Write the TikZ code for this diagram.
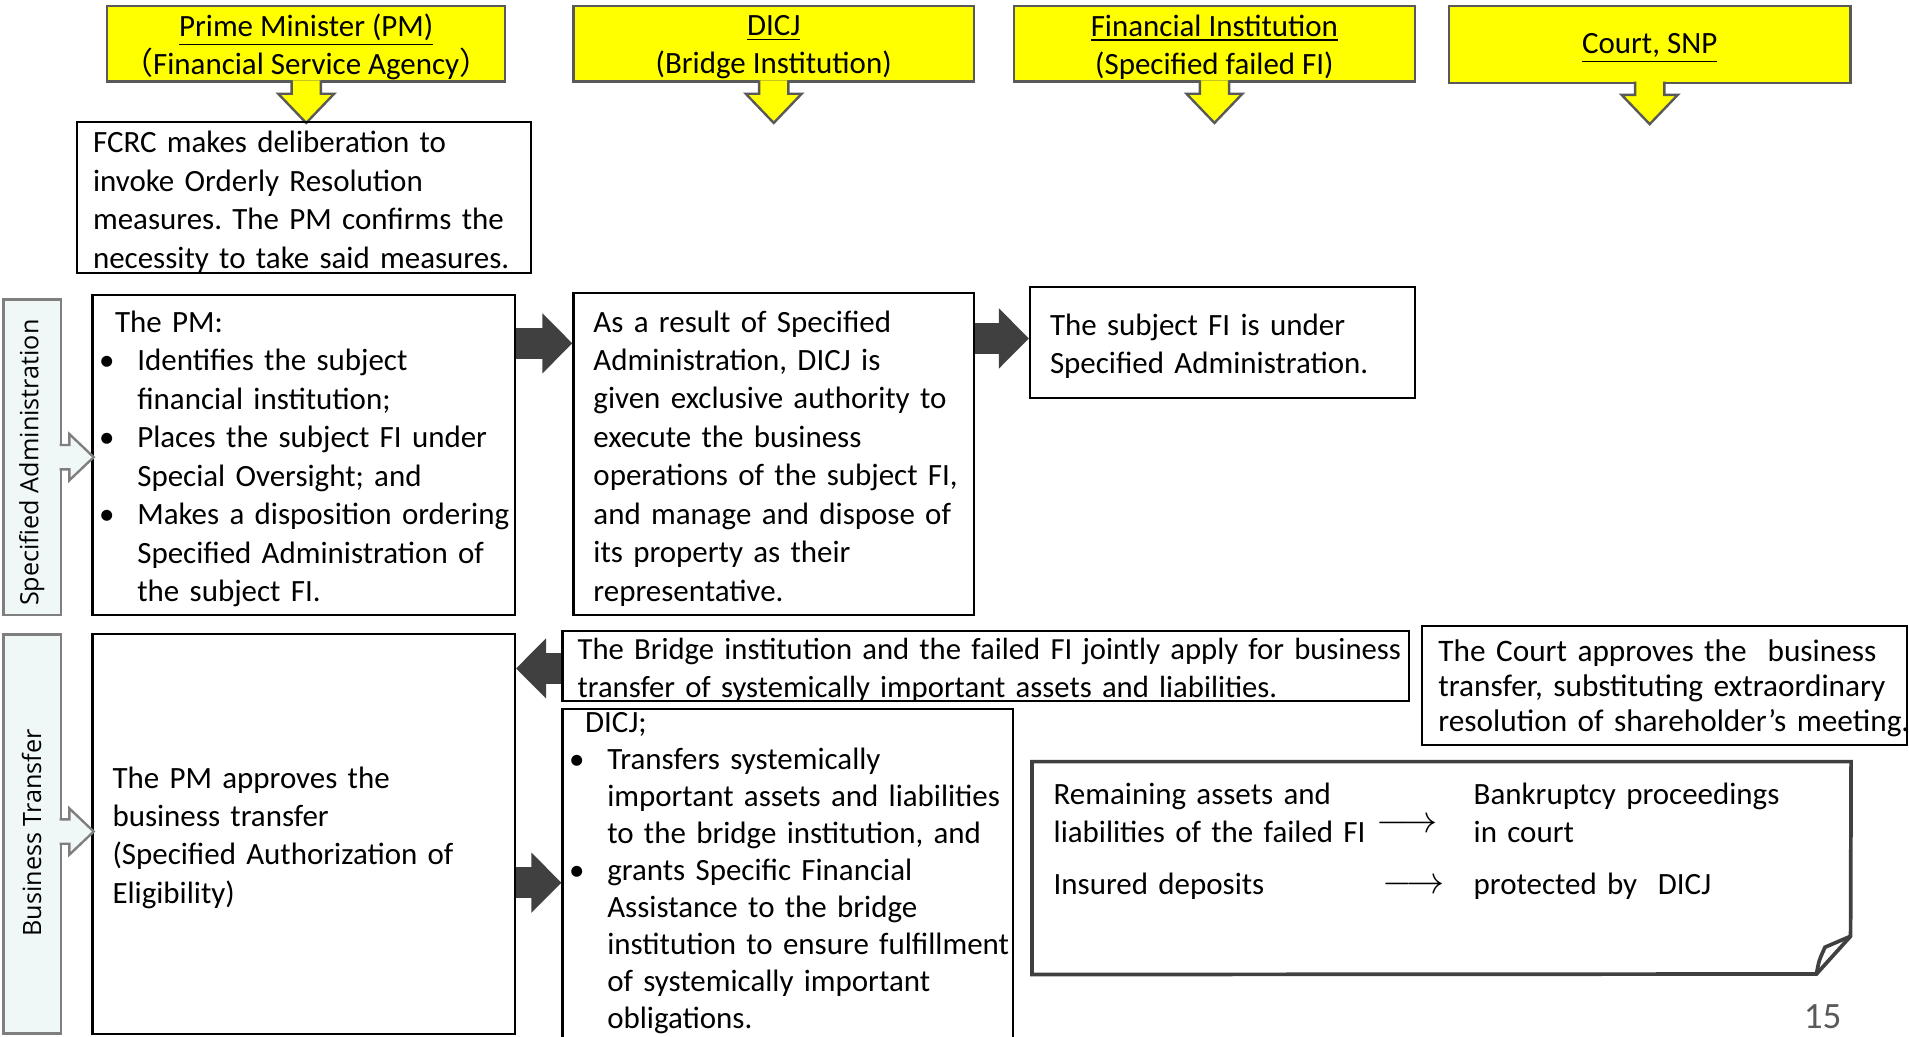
\documentclass[tikz,border=0pt]{standalone}
\usepackage{fontspec}
\setmainfont{Carlito}
\newfontfamily\sidefont{Open Sans}
\newfontfamily\cjk{Noto Sans CJK JP}
\usetikzlibrary{arrows.meta,fit}
\frenchspacing

\definecolor{headyellow}{HTML}{FFFF00}
\definecolor{headline}{HTML}{595959}
\definecolor{sidefill}{HTML}{F0F8F7}
\definecolor{sideline}{HTML}{7F7F7F}
\definecolor{arrowgray}{HTML}{404040}
\definecolor{pagegray}{HTML}{595959}

\newcommand{\bitem}{\makebox[14.4pt][l]{\textbullet}}
\newcommand{\bcont}{\hspace*{14.4pt}}

\begin{document}
\begin{tikzpicture}[x=0.459pt, y=-0.459pt,
    box/.style={draw=black, line width=0.8pt, inner sep=0pt},
    headbox/.style={draw=headline, fill=headyellow, line width=0.9pt, inner sep=0pt},
    sidebox/.style={draw=sideline, fill=sidefill, line width=0.9pt, inner sep=0pt},
    txt/.style={anchor=west, align=left, inner sep=0pt, text width=200pt,
      font=\fontsize{11.67}{14.5}\selectfont},
    headtxt/.style={align=center, inner sep=0pt, font=\fontsize{11.67}{14.4}\selectfont},
    sidetxt/.style={rotate=90, inner sep=0pt, font=\sidefont\fontsize{9.5}{11}\selectfont},
    blockarr/.style={arrowgray, line width=11.7pt, -{Triangle[length=11.3pt, width=22pt]}},
    yarr/.style={fill=headyellow, draw=headline, line width=0.9pt},
    hollowarr/.style={fill=sidefill, draw=sideline, line width=0.9pt},
    notebox/.style={draw=arrowgray, line width=1.4pt, line join=miter}
  ]
  \useasboundingbox (0,0) rectangle (1568,851);

  % Header boxes
  \node[headbox, fit={(88,5) (415,67)}] (hpm) {};
  \node[headbox, fit={(471,5) (800,67)}] (hdicj) {};
  \node[headbox, fit={(833,5) (1162,67)}] (hfi) {};
  \node[headbox, fit={(1190,5) (1520,68)}] (hcourt) {};
  \node[headtxt] (hpmtxt) at (251.5,38.5) {\underline{Prime Minister (PM)}\\{\cjk （}Financial Service Agency{\cjk ）}};
  \node[headtxt] (hdicjtxt) at (635.5,38.5) {\underline{DICJ}\\(Bridge Institution)};
  \node[headtxt] (hfitxt) at (997.5,38.5) {\underline{Financial Institution}\\(Specified failed FI)};
  \node[headtxt] (hcourttxt) at (1355,39.5) {\underline{Court, SNP}};

  % Yellow arrows below the headers
  \foreach \h in {hpm,hdicj,hfi,hcourt}
    \filldraw[yarr] (\h.south) ++(-12,-2) -- ++(0,11) -- ++(-11,0) -- ++(23,24)
      -- ++(23,-24) -- ++(-11,0) -- ++(0,-11);

  % FCRC deliberation
  \node[box, fit={(63,100) (436,224)}] (fcrc) {};
  \node[txt] (fcrctxt) at (76,166) {FCRC makes deliberation to\\invoke Orderly Resolution\\measures. The PM confirms the\\necessity to take said measures.};

  % Specified Administration row
  \node[sidebox, fit={(3,246) (50,505)}] (sideadm) {};
  \node[sidetxt] (sideadmtxt) at (26,380) {Specified Administration};
  \node[box, fit={(76,242) (423,505)}] (pmsa) {};
  \node[txt] (pmsatxt) at (81,377) {\hspace*{6pt}The PM:\\
    \bitem Identifies the subject\\\bcont financial institution;\\
    \bitem Places the subject FI under\\\bcont Special Oversight; and\\
    \bitem Makes a disposition ordering\\\bcont Specified Administration of\\\bcont the subject FI.};
  \node[box, fit={(471,241) (800,505)}] (dicjsa) {};
  \node[txt] (dicjsatxt) at (487,376.5) {As a result of Specified\\Administration, DICJ is\\given exclusive authority to\\execute the business\\operations of the subject FI,\\and manage and dispose of\\its property as their\\representative.};
  \node[box, fit={(846,236) (1162,327)}] (fisa) {};
  \node[txt] (fisatxt) at (862,284.5) {The subject FI is under\\Specified Administration.};

  \filldraw[hollowarr] (sideadm.east) ++(-2,-10) -- ++(8,0) -- ++(0,-9) -- ++(20,19)
    -- ++(-20,19) -- ++(0,-9) -- ++(-8,0);
  \draw[blockarr] (pmsa.east |- 0,282) -- (dicjsa.west |- 0,282);
  \draw[blockarr] (dicjsa.east |- 0,278) -- (fisa.west |- 0,278);

  % Business Transfer row
  \node[sidebox, fit={(3,521) (50,849)}] (sidebt) {};
  \node[sidetxt] (sidebttxt) at (26,684) {Business Transfer};
  \node[box, fit={(76,521) (423,849)}] (pmbt) {};
  \node[txt] (pmbttxt) at (92,688) {The PM approves the\\business transfer\\(Specified Authorization of\\Eligibility)};
  \node[box, fit={(462,518) (1157,576)}] (apply) {};
  \node[txt, text width=330pt, font=\fontsize{11.57}{14.2}\selectfont] (applytxt) at (474,550.5) {The Bridge institution and the failed FI jointly apply for business\\transfer of systemically important assets and liabilities.};
  \node[box, fit={(462,582) (832,853)}] (dicjbt) {};
  \node[txt, font=\fontsize{11.67}{13.95}\selectfont] (dicjbttxt) at (467,717) {\hspace*{6pt}DICJ;\\
    \bitem Transfers systemically\\\bcont important assets and liabilities\\\bcont to the bridge institution, and\\
    \bitem grants Specific Financial\\\bcont Assistance to the bridge\\\bcont institution to ensure fulfillment\\\bcont of systemically important\\\bcont obligations.};
  \node[box, fit={(1168,514) (1566,612)}] (court) {};
  \node[txt, font=\fontsize{11.8}{13.1}\selectfont] (courttxt) at (1181,565.5) {The Court approves the~ business\\transfer, substituting extraordinary\\resolution of shareholder’s meeting.};

  \filldraw[hollowarr] (sidebt.east) ++(-2,-12) -- ++(8,0) -- ++(0,-9) -- ++(20,19)
    -- ++(-20,19) -- ++(0,-9) -- ++(-8,0);
  \draw[blockarr] (apply.west |- 0,549) -- (pmbt.east |- 0,549);
  \draw[blockarr] (pmbt.east |- 0,725) -- (dicjbt.west |- 0,725);

  % Remaining assets note with folded corner
  \node[fit={(848,626) (1520,800)}, inner sep=0pt] (rest) {};
  \draw[notebox] (rest.north west) -- (rest.north east) -- (1520,769) -- (1492,800)
    -- (rest.south west) -- cycle;
  \draw[notebox] (1492,800) .. controls (1494,789) .. (1499,778) -- (1520,769);
  \node[txt] (resttxt) at (865,667.5) {Remaining assets and\\liabilities of the failed FI};
  \node[inner sep=0pt, font=\fontsize{14}{16}\selectfont] (restarr) at (1156,678) {$\longrightarrow$};
  \node[txt] (bankrtxt) at (1210,667.5) {Bankruptcy proceedings\\in court};
  \node[txt] (insdtxt) at (865,728) {Insured deposits};
  \node[inner sep=0pt, font=\fontsize{14}{16}\selectfont] (insdarr) at (1161,728) {$\longrightarrow$};
  \node[txt] (prottxt) at (1210,728) {protected by~ DICJ};

  % Page number
  \node[text=pagegray, inner sep=0pt, font=\fontsize{14}{16}\selectfont] (pagenum) at (1497,835) {15};
\end{tikzpicture}
\end{document}
